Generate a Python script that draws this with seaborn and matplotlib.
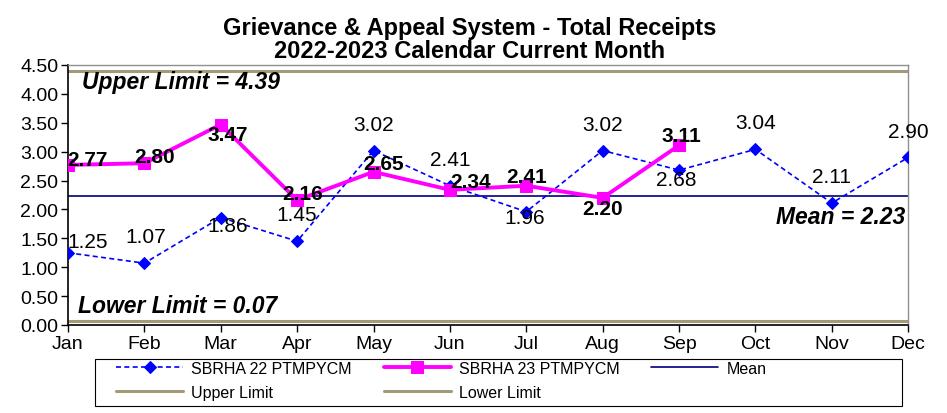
import numpy as np
import pandas as pd
import matplotlib
matplotlib.use("Agg")
import matplotlib.pyplot as plt
import matplotlib.patches as mpatches
import seaborn as sns

months = ['Jan', 'Feb', 'Mar', 'Apr', 'May', 'Jun', 'Jul', 'Aug', 'Sep', 'Oct', 'Nov', 'Dec']
sbrha22 = [1.25, 1.07, 1.86, 1.45, 3.02, 2.41, 1.96, 3.02, 2.68, 3.04, 2.11, 2.90]
sbrha23 = [2.77, 2.80, 3.47, 2.16, 2.65, 2.34, 2.41, 2.20, 3.11]
mean_val = 2.23
upper_limit = 4.39
lower_limit = 0.07

# label offsets (points) for each data label
off22 = [(14, 8), (1, 19), (5, -6), (0, 19), (0, 19), (0, 19), (-1, -4), (0, 19), (-2, -7), (0, 19), (0, 19), (0, 19)]
off23 = [(14, 4), (7, 5), (5, -7), (4, 5), (7, 6), (15, 6), (0, 7), (0, -8), (2, 7)]

sns.set_style('white')
plt.rcParams['font.family'] = ['Liberation Sans', 'DejaVu Sans']
for k in ['text.color', 'axes.labelcolor', 'xtick.color', 'ytick.color']:
    plt.rcParams[k] = 'black'

df22 = pd.DataFrame({'x': np.arange(len(sbrha22)), 'y': sbrha22})
df23 = pd.DataFrame({'x': np.arange(len(sbrha23)), 'y': sbrha23})

fig = plt.figure(figsize=(9.47, 4.14), dpi=100)
ax = fig.add_axes([0.0718, 0.2126, 0.8872, 0.628])

lim_color = '#A39B78'
ax.axhline(upper_limit, color=lim_color, lw=2.2, label='Upper Limit', zorder=1)
ax.axhline(lower_limit, color=lim_color, lw=2.2, label='Lower Limit', zorder=1)
ax.axhline(mean_val, color='#000080', lw=1.2, label='Mean', zorder=1)

sns.lineplot(data=df22, x='x', y='y', ax=ax, color='#0000FF', lw=1.2, linestyle=(0, (3, 2)),
             marker='D', markersize=6.5, markeredgecolor='#0000FF', label='SBRHA 22 PTMPYCM', zorder=3)
sns.lineplot(data=df23, x='x', y='y', ax=ax, color='#FF00FF', lw=2.8,
             marker='s', markersize=8.5, markeredgecolor='#FF00FF', label='SBRHA 23 PTMPYCM', zorder=4)

for i, v in enumerate(sbrha22):
    ax.annotate(f'{v:.2f}', (i, v), xytext=off22[i], textcoords='offset points',
                ha='center', va='center', fontsize=15, zorder=5)
for i, v in enumerate(sbrha23):
    ax.annotate(f'{v:.2f}', (i, v), xytext=off23[i], textcoords='offset points',
                ha='center', va='center', fontsize=15, fontweight='bold', zorder=5)

ax.text(0.18, 4.21, f'Upper Limit = {upper_limit:.2f}', fontsize=16.5, fontweight='bold',
        style='italic', ha='left', va='center')
ax.text(0.13, 0.33, f'Lower Limit = {lower_limit:.2f}', fontsize=16.5, fontweight='bold',
        style='italic', ha='left', va='center')
ax.text(10.96, 1.87, f'Mean = {mean_val:.2f}', fontsize=16.5, fontweight='bold',
        style='italic', ha='right', va='center')

ax.set_xlim(0, 11)
ax.set_ylim(0, 4.5)
ax.set_xticks(range(len(months)))
ax.set_xticklabels(months)
ax.set_yticks(np.arange(0, 4.51, 0.5))
ax.yaxis.set_major_formatter(matplotlib.ticker.FormatStrFormatter('%.2f'))
ax.tick_params(axis='both', labelsize=14, direction='out', length=5, width=1, colors='black',
               left=True, bottom=True, pad=2)
ax.set_xlabel('')
ax.set_ylabel('')
for s in ['left', 'bottom']:
    ax.spines[s].set_color('black')
    ax.spines[s].set_linewidth(1.2)
for s in ['top', 'right']:
    ax.spines[s].set_color('#909090')
    ax.spines[s].set_linewidth(1.0)

fig.suptitle('Grievance & Appeal System - Total Receipts\n2022-2023 Calendar Current Month',
             fontsize=17, fontweight='bold', x=0.496, y=0.96, va='top', linespacing=1.0)

h, l = ax.get_legend_handles_labels()
hd = dict(zip(l, h))
# matplotlib fills legend columns first; this order gives rows 22/23/Mean then Upper/Lower
order = ['SBRHA 22 PTMPYCM', 'Upper Limit', 'SBRHA 23 PTMPYCM', 'Lower Limit', 'Mean']
ax.get_legend().remove()
leg = fig.legend([hd[k] for k in order], order, ncol=3, loc='upper left',
                 bbox_to_anchor=(116 / 947, 1 - 362 / 414), fontsize=11.5,
                 frameon=False, handlelength=4.2, handletextpad=0.5, numpoints=1,
                 borderpad=0.0, labelspacing=0.55, columnspacing=2.0, borderaxespad=0)
fig.patches.append(mpatches.Rectangle((95 / 947, 1 - 407 / 414), 807 / 947, 47 / 414,
                                      transform=fig.transFigure, fill=False,
                                      edgecolor='black', lw=0.8))

fig.savefig('out.png', dpi=100)
